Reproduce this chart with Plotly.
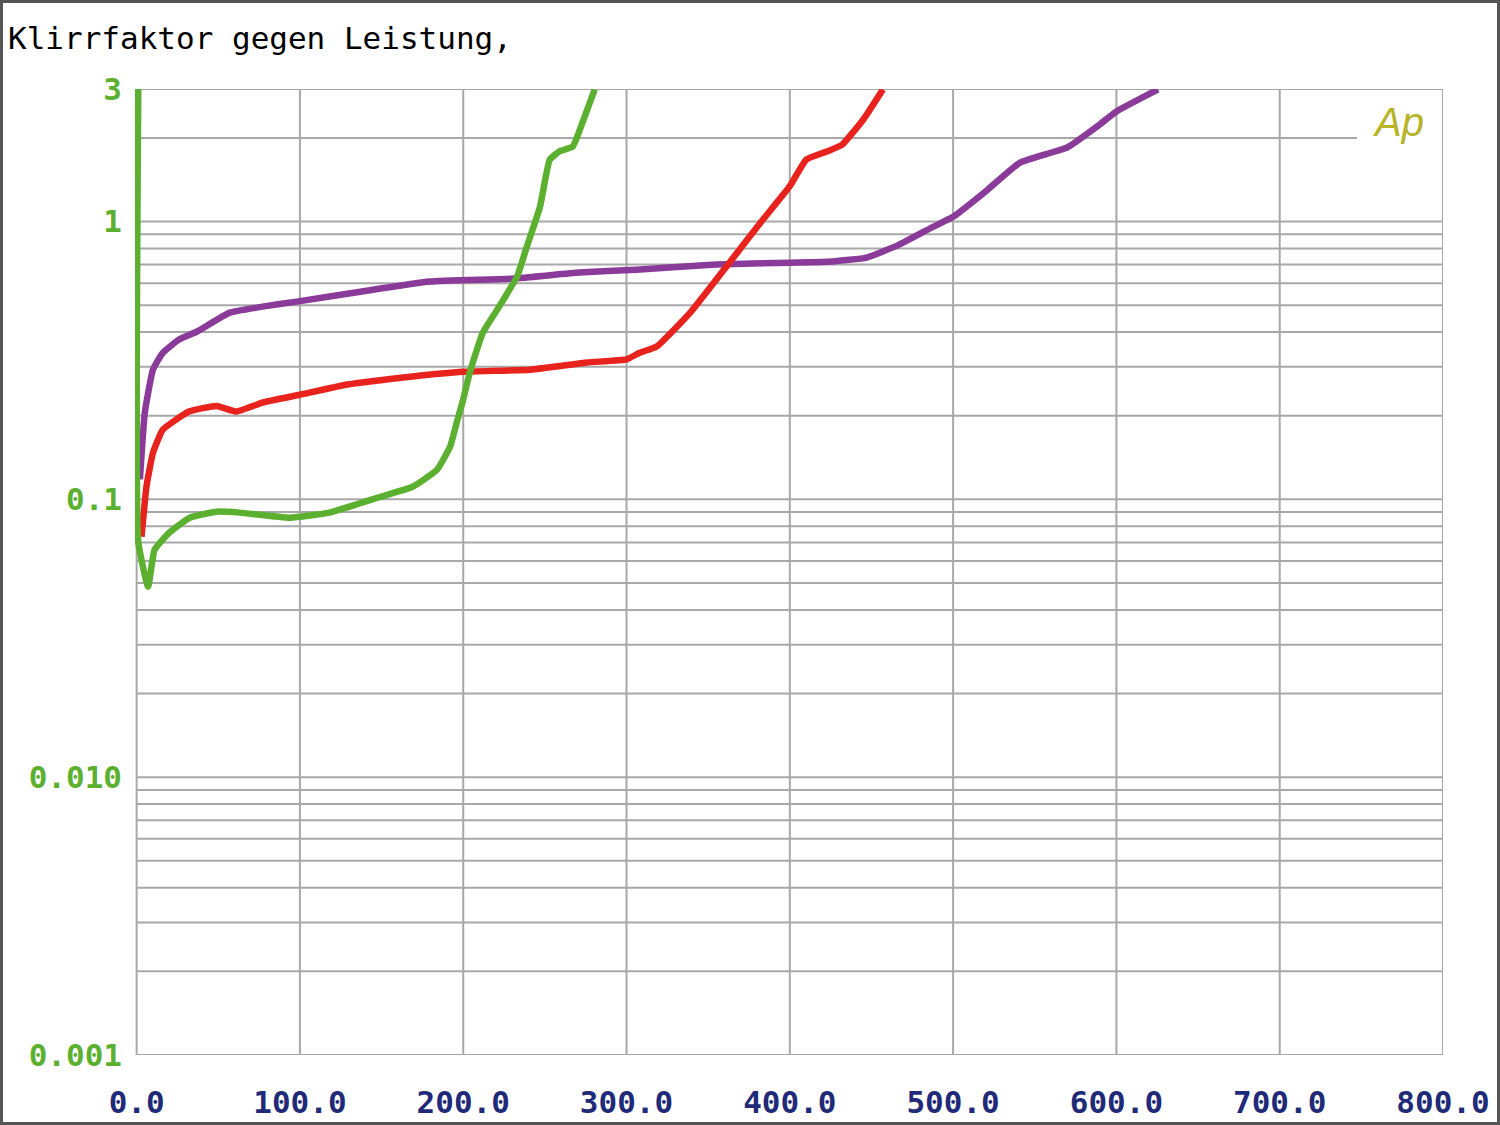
import numpy as np
import plotly.graph_objects as go

# ---- data ----
green_x = [1, 1, 7, 11, 20, 32.5, 49, 63, 94, 118, 149, 169, 184, 192, 196, 200, 204, 212, 222, 233, 239, 247, 253, 259, 267, 273, 280.5]
green_y = [3.0, 0.0704, 0.0485, 0.0659, 0.0759, 0.0859, 0.0903, 0.0896, 0.0859, 0.0896, 0.102, 0.111, 0.128, 0.155, 0.189, 0.229, 0.286, 0.398, 0.494, 0.634, 0.813, 1.13, 1.67, 1.79, 1.86, 2.27, 2.99]

red_x = [3, 6, 10, 16, 32, 49, 61, 77, 100, 129, 169, 200, 241, 276, 300, 308, 318.5, 339, 363, 382, 400, 410, 423, 432, 445, 457]
red_y = [0.0734, 0.111, 0.147, 0.178, 0.207, 0.217, 0.207, 0.223, 0.238, 0.259, 0.277, 0.288, 0.293, 0.311, 0.319, 0.337, 0.355, 0.470, 0.711, 0.99, 1.34, 1.67, 1.79, 1.89, 2.33, 2.99]

purple_x = [2, 5, 10, 16, 26, 37, 57, 77, 98, 138, 179.5, 230, 271, 306, 355, 400, 426, 447, 467, 488, 500, 521, 541, 570, 590, 600, 625.5]
purple_y = [0.118, 0.205, 0.293, 0.337, 0.376, 0.402, 0.470, 0.494, 0.515, 0.560, 0.608, 0.623, 0.655, 0.671, 0.700, 0.711, 0.718, 0.742, 0.826, 0.959, 1.04, 1.30, 1.63, 1.85, 2.24, 2.49, 2.99]

x_ticks = [0, 100, 200, 300, 400, 500, 600, 700, 800]
x_labels = ["0.0", "100.0", "200.0", "300.0", "400.0", "500.0", "600.0", "700.0", "800.0"]
y_ticks = [0.001, 0.01, 0.1, 1, 3]
y_labels = ["0.001", "0.010", "0.1", "1", "3"]

title_text = "Klirrfaktor gegen Leistung,"

# ---- figure ----
W, H = 1500, 1125
ml, mr, mt, mb = 135, 57, 89, 70
pw, ph = W - ml - mr, H - mt - mb
XMIN, XMAX = -1, 800

GREEN = "#5cb030"
RED = "#e8221c"
PURPLE = "#8a3a98"
GRID = "#a8a8a8"

fig = go.Figure()
for xs, ys, col in [(purple_x, purple_y, PURPLE), (red_x, red_y, RED), (green_x, green_y, GREEN)]:
    fig.add_trace(go.Scatter(x=xs, y=ys, mode="lines",
                             line=dict(color=col, width=6.5, shape="spline", smoothing=0.4),
                             showlegend=False, hoverinfo="skip"))

# horizontal log grid lines
shapes = []
grid_vals = []
for dec in [0.001, 0.01, 0.1, 1]:
    for m in range(1, 10):
        v = dec * m
        if v <= 3.0001:
            grid_vals.append(v)
px_per_unit = pw / (XMAX - XMIN)
for v in grid_vals:
    x1 = 800
    if abs(v - 2) < 1e-9:
        x1 = (1357 - ml) / px_per_unit + XMIN
    shapes.append(dict(type="line", xref="x", yref="y", x0=0, x1=x1, y0=v, y1=v,
                       line=dict(color=GRID, width=2), layer="below"))
# vertical grid lines
for xv in x_ticks:
    shapes.append(dict(type="line", xref="x", yref="y", x0=xv, x1=xv, y0=0.001, y1=3,
                       line=dict(color=GRID, width=2), layer="below"))

# outer dark frame
shapes.append(dict(type="rect", xref="paper", yref="paper",
                   x0=-(ml - 1.5) / pw, x1=1 + (mr - 1.5) / pw,
                   y0=-(mb - 1.5) / ph, y1=1 + (mt - 1.5) / ph,
                   line=dict(color="#555555", width=3), layer="above"))

fig.update_layout(
    width=W, height=H,
    margin=dict(l=ml, r=mr, t=mt, b=mb, autoexpand=False),
    paper_bgcolor="white", plot_bgcolor="white",
    shapes=shapes,
    title=dict(text=title_text, x=8 / W, xanchor="left", xref="container",
               y=1 - 38 / H, yanchor="middle", yref="container",
               font=dict(family="DejaVu Sans Mono", size=31, color="black")),
    xaxis=dict(range=[XMIN, XMAX], tickvals=x_ticks, ticktext=x_labels,
               showgrid=False, zeroline=False, showline=False, automargin=False,
               ticks="", ticklabelstandoff=26,
               tickfont=dict(family="DejaVu Sans Mono", size=31, color="#1f2a78", weight="bold")),
    yaxis=dict(type="log", range=[-3, np.log10(3)], tickvals=y_ticks, ticktext=y_labels,
               showgrid=False, zeroline=False, showline=False, automargin=False,
               ticks="", ticklabelstandoff=12,
               tickfont=dict(family="DejaVu Sans Mono", size=31, color=GREEN, weight="bold")),
    annotations=[dict(text="<i>Ap</i>", xref="paper", yref="paper",
                      x=(1398 - ml) / pw, y=1 - (122 - mt) / ph,
                      xanchor="center", yanchor="middle", showarrow=False,
                      font=dict(family="Liberation Sans", size=40, color="#b8b428"))],
)

fig.write_html("out.html")
